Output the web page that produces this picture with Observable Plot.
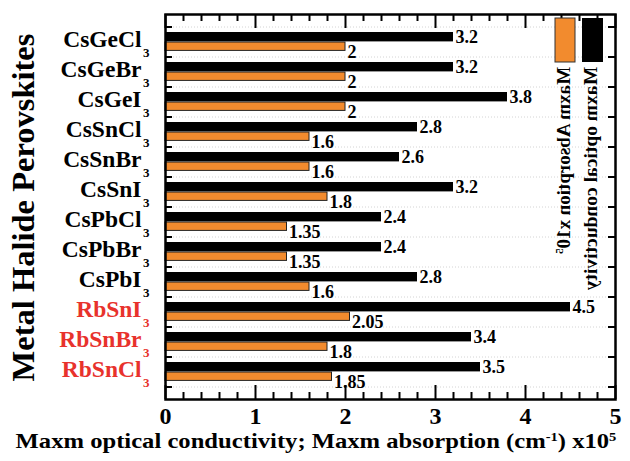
<!DOCTYPE html>
<html><head><meta charset="utf-8">
<script src="https://cdn.jsdelivr.net/npm/d3@7"></script>
<script src="https://cdn.jsdelivr.net/npm/@observablehq/plot@0.6"></script>
<style>html,body{margin:0;padding:0;background:#fff} svg{display:block}</style>
</head><body><div id="chart"></div>
<script>
const categories = ["CsGeCl3","CsGeBr3","CsGeI3","CsSnCl3","CsSnBr3","CsSnI3","CsPbCl3","CsPbBr3","CsPbI3","RbSnI3","RbSnBr3","RbSnCl3"];
const conductivity = [3.2, 3.2, 3.8, 2.8, 2.6, 3.2, 2.4, 2.4, 2.8, 4.5, 3.4, 3.5];
const absorption = [2, 2, 2, 1.6, 1.6, 1.8, 1.35, 1.35, 1.6, 2.05, 1.8, 1.85];
const highlighted = ["RbSnI3","RbSnBr3","RbSnCl3"];
const majorTicks = [0, 1, 2, 3, 4, 5];
const minorTicks = [0.2,0.4,0.6,0.8,1.2,1.4,1.6,1.8,2.2,2.4,2.6,2.8,3.2,3.4,3.6,3.8,4.2,4.4,4.6,4.8];
const seriesLabels = ["Maxm Absorption x10", "Maxm optical conductivity"];
const yTitle = "Metal Halide Perovskites";

const ORANGE = "#f28b2e";
const RED = "#e8322c";
const FONT = "'Liberation Serif','Times New Roman',serif";

const rows = categories.map((c, i) => ({cat: c, cond: conductivity[i], abs: absorption[i]}));

function bandBounds(y) {
  const bw = y.bandwidth ? y.bandwidth() : (y(categories[1]) - y(categories[0]));
  return categories.map(c => y(c)).concat([y(categories[categories.length - 1]) + bw]);
}

function yTickMark(index, scales, values, dim) {
  const g = d3.create("svg:g");
  const x0 = dim.marginLeft, x1 = dim.width - dim.marginRight;
  for (const b of bandBounds(scales.y)) {
    g.append("line").attr("x1", x0).attr("x2", x0 + 7).attr("y1", b).attr("y2", b)
      .attr("stroke", "black").attr("stroke-width", 2);
    g.append("line").attr("x1", x1 - 7).attr("x2", x1).attr("y1", b).attr("y2", b)
      .attr("stroke", "black").attr("stroke-width", 2);
  }
  return g.node();
}

function gridMark(index, scales, values, dim) {
  const g = d3.create("svg:g");
  const x0 = dim.marginLeft, x1 = dim.width - dim.marginRight;
  for (const b of bandBounds(scales.y)) {
    g.append("line").attr("x1", x0 + 8).attr("x2", x1 - 8).attr("y1", b).attr("y2", b)
      .attr("stroke", "#d4d4d4").attr("stroke-width", 1).attr("stroke-dasharray", "1,2");
  }
  return g.node();
}

function textMark(index, scales, values, dim) {
  const g = d3.create("svg:g").attr("font-family", FONT).attr("font-weight", "bold").attr("fill", "black");
  const right = dim.width - dim.marginRight;
  const top = dim.marginTop;
  // y title
  g.append("text").attr("transform", `translate(34,${(top + dim.height - dim.marginBottom) / 2 + 1}) rotate(-90)`)
    .attr("text-anchor", "middle").attr("font-size", 32.5).text(yTitle);
  // x title
  const xt = g.append("text").attr("transform", `translate(${dim.width / 2 + 1},448) scale(1.12,1)`)
    .attr("text-anchor", "middle").attr("font-size", 22);
  xt.append("tspan").text("Maxm optical conductivity; Maxm absorption (cm");
  xt.append("tspan").attr("dy", -7).attr("font-size", 13).text("-1");
  xt.append("tspan").attr("dy", 7).text(") x10");
  xt.append("tspan").attr("dy", -7).attr("font-size", 13).text("5");
  // legend swatches
  g.append("rect").attr("x", right - 60).attr("y", top + 4).attr("width", 20).attr("height", 44)
    .attr("fill", ORANGE).attr("stroke", "#333").attr("stroke-width", 1);
  g.append("rect").attr("x", right - 33).attr("y", top + 4).attr("width", 21).attr("height", 44)
    .attr("fill", "black");
  // legend labels (rotated, as in the reference)
  const t1 = g.append("text").attr("transform", `translate(${right - 45},${top + 53}) rotate(90) scale(1,-1)`)
    .attr("text-anchor", "start").attr("font-size", 19);
  t1.append("tspan").text(seriesLabels[0]);
  t1.append("tspan").attr("dy", -7).attr("font-size", 11).text("5");
  g.append("text").attr("transform", `translate(${right - 18},${top + 53}) rotate(90) scale(1,-1)`)
    .attr("text-anchor", "start").attr("font-size", 19.5).text(seriesLabels[1]);
  return g.node();
}

const chart = Plot.plot({
  width: 630,
  height: 461,
  marginLeft: 165,
  marginRight: 15,
  marginTop: 14,
  marginBottom: 62,
  style: {fontFamily: FONT, background: "white"},
  x: {domain: [0, 5]},
  y: {type: "band", domain: categories, range: [23, 390], padding: 0, axis: null},
  marks: [
    gridMark,
    Plot.barX(rows, {x: "cond", y: "cat", fill: "black", insetTop: 5, insetBottom: 15.6}),
    Plot.barX(rows, {x: "abs", y: "cat", fill: ORANGE, stroke: "#222", strokeWidth: 1, insetTop: 15, insetBottom: 6.6}),
    Plot.text(rows, {x: "cond", y: "cat", text: d => String(d.cond), textAnchor: "start", dx: 2, dy: -5.5, fontSize: 18, fontWeight: "bold", fill: "black"}),
    Plot.text(rows, {x: "abs", y: "cat", text: d => String(d.abs), textAnchor: "start", dx: 2, dy: 9.5, fontSize: 18, fontWeight: "bold", fill: "black"}),
    Plot.text(rows, {y: "cat", frameAnchor: "left", text: d => d.cat.slice(0, -1), textAnchor: "end", dx: -24, dy: -3.5, fontSize: 23.5, fontWeight: "bold",
      fill: d => highlighted.includes(d.cat) ? RED : "black"}),
    Plot.text(rows, {y: "cat", frameAnchor: "left", text: d => d.cat.slice(-1), textAnchor: "start", dx: -22.5, dy: 10.5, fontSize: 13, fontWeight: "bold",
      fill: d => highlighted.includes(d.cat) ? RED : "black"}),
    Plot.tickX(majorTicks, {x: d => d, insetTop: 371, strokeWidth: 2, stroke: "black"}),
    Plot.tickX(majorTicks, {x: d => d, insetBottom: 371, strokeWidth: 2, stroke: "black"}),
    Plot.tickX(minorTicks, {x: d => d, insetTop: 378, strokeWidth: 2, stroke: "black"}),
    Plot.tickX(minorTicks, {x: d => d, insetBottom: 378, strokeWidth: 2, stroke: "black"}),
    yTickMark,
    Plot.axisX({ticks: majorTicks, tickSize: 0, tickPadding: 7, fontSize: 24, fontWeight: "bold", label: null, tickFormat: d => String(d)}),
    Plot.frame({stroke: "black", strokeWidth: 2.5}),
    textMark
  ]
});
document.getElementById("chart").appendChild(chart);
</script>
</body></html>
